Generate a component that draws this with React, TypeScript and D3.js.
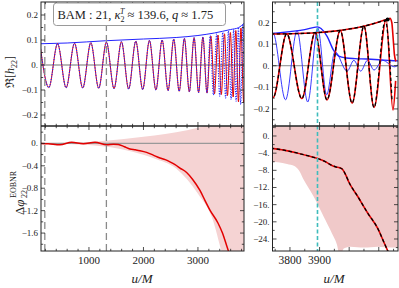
import React from 'react';
import * as d3 from 'd3';

type Pt = [number, number];

// Re h22 extrema of the NR waveform (u/M, value)
const nrRe: Pt[] = [
  [101, 0.083], [264, -0.09], [424, 0.085], [581, -0.091], [735, 0.087], [886, -0.092],
  [1034, 0.089], [1179, -0.093], [1321, 0.091], [1460, -0.094], [1596, 0.093], [1729, -0.096],
  [1859, 0.095], [1986, -0.098], [2110, 0.098], [2229, -0.1], [2343, 0.1], [2452, -0.102],
  [2556, 0.103], [2656, -0.105], [2751, 0.106], [2842, -0.107], [2929, 0.109], [3012, -0.11],
  [3091, 0.112], [3166, -0.112], [3237, 0.116], [3304, -0.115], [3368, 0.12], [3429, -0.118],
  [3487, 0.125], [3542, -0.122], [3595, 0.13], [3646, -0.128], [3695, 0.138], [3743, -0.147],
  [3789, 0.148], [3840, -0.152], [3885, 0.154], [3925, -0.158], [3970, 0.163], [4010, -0.173],
  [4050, 0.184], [4084, -0.193], [4125, 0.214], [4148, -0.205], [4157, -0.07],
];

// blue model follows NR up to u ~ 3166, then runs ahead and merges early
const blueReLate: Pt[] = [
  [3225, 0.118], [3284, -0.12], [3343, 0.124], [3400, -0.125], [3455, 0.13], [3508, -0.132],
  [3559, 0.136], [3608, -0.138], [3655, 0.142], [3700, -0.145], [3743, 0.15], [3785, -0.158],
  [3824, 0.162], [3860, -0.168], [3894, 0.175], [3924, -0.135], [3952, 0.065], [3993, -0.025],
  [4016, 0.025], [4039, -0.025], [4062, 0.025], [4084, -0.02], [4113, 0.025], [4153, -0.005],
  [4170, 0.01],
];

const blueAmp: Pt[] = [
  [110, 0.085], [600, 0.088], [1300, 0.097], [2000, 0.104], [2600, 0.11], [3000, 0.118],
  [3300, 0.128], [3600, 0.142], [3743, 0.149], [3800, 0.158], [3850, 0.167], [3893, 0.18],
  [3905, 0.172], [3926, 0.135], [3946, 0.075], [3965, 0.045], [3990, 0.036], [4020, 0.033],
  [4060, 0.031], [4100, 0.028], [4140, 0.024], [4170, 0.022],
];

const nrAmp: Pt[] = [
  [3735, 0.147], [3800, 0.148], [3850, 0.15], [3900, 0.154], [3950, 0.16], [4000, 0.17],
  [4050, 0.183], [4090, 0.198], [4115, 0.209], [4130, 0.215], [4138, 0.219], [4144, 0.2],
  [4149, 0.12], [4153, 0.05], [4158, 0.02],
];

const eobAmp: Pt[] = [
  [3735, 0.147], [3800, 0.148], [3850, 0.15], [3900, 0.154], [3950, 0.16], [4000, 0.17],
  [4050, 0.183], [4090, 0.198], [4115, 0.208], [4130, 0.214],
];
const eobReTail: Pt[] = [[4122, 0.21], [4145, -0.165]];
const eobPeak: Pt = [4130, 0.214];

// phase difference, left panel
const dphiLeft: Pt[] = [
  [119, 0], [250, -0.005], [468, -0.025], [683, 0.018], [897, -0.005], [1110, 0.018],
  [1325, -0.025], [1450, -0.015], [1538, -0.02], [1650, -0.06], [1752, -0.1], [1850, -0.115],
  [1936, -0.13], [2058, -0.16], [2180, -0.21], [2303, -0.26], [2400, -0.29], [2486, -0.33],
  [2580, -0.38], [2670, -0.44], [2792, -0.52], [2900, -0.64], [3037, -0.84], [3130, -1.02],
  [3220, -1.19], [3367, -1.42], [3450, -1.6], [3532, -1.84], [3580, -1.98],
];
const bandLU = [119, 600, 1000, 1400, 1800, 2200, 2600, 3000, 3275, 3440, 3845];
const bandLHi = [0, 0.012, 0.025, 0.055, 0.095, 0.14, 0.2, 0.28, 0.35, 0.4, 0.6];
const bandLLo = [0, -0.012, -0.03, -0.07, -0.15, -0.27, -0.45, -0.9, -1.37, -1.95, -3];

// phase difference, right panel
const dphiRight: Pt[] = [
  [3735, -2.85], [3780, -3.3], [3820, -3.9], [3860, -4.6], [3896, -5.3], [3920, -6.0],
  [3940, -6.8], [3955, -7.2], [3968, -7.4], [3978, -7.8], [3988, -9.0], [3998, -10.6],
  [4029, -14.1], [4063, -18.0], [4097, -21.6], [4117, -24.7], [4135, -27.5],
];
const bandRU = [3735, 3760, 3790, 3815, 3830, 3845, 3880, 3914, 3942, 3959, 3965, 3975, 3982, 4005, 4050, 4096, 4141, 4170];
const bandRLo = [-6.0, -6.1, -6.5, -7.0, -8.0, -10.0, -14.1, -18.8, -22.7, -25.4, -27, -27, -26.2, -25.8, -26, -25.8, -26, -26];

const alignWindow = [190, 1320];
const blueMerger = 3893;

const yTopMajor = [-0.2, -0.1, 0, 0.1, 0.2];
const yTopMinor = [-0.25, -0.15, -0.05, 0.05, 0.15, 0.25];
const yTopLabels = ['\u22120.2', '\u22120.1', '0.', '0.1', '0.2'];
const yBLMajor = [0, -0.4, -0.8, -1.2, -1.6];
const yBLMinor = [0.2, -0.2, -0.6, -1.0, -1.4, -1.8];
const yBLLabels = ['0.', '\u22120.4', '\u22120.8', '\u22121.2', '\u22121.6'];
const yBRMajor = [0, -4, -8, -12, -16, -20, -24];
const yBRMinor = [2, -2, -6, -10, -14, -18, -22, -26];
const yBRLabels = ['0.', '\u22124.', '\u22128.', '\u221212.', '\u221216.', '\u221220.', '\u221224.'];
const xLMajor = [1000, 2000, 3000];
const xLMinor = [200, 400, 600, 800, 1200, 1400, 1600, 1800, 2200, 2400, 2600, 2800, 3200, 3400, 3600, 3800];
const xRMajor = [3800, 3900, 4000, 4100];
const xRMinor = [3750, 3850, 3950, 4050, 4150];
const xRLabeled = [3800, 3900];

const FONT = "'Liberation Serif', 'DejaVu Serif', serif";
const RED = '#e30000';
const BLUE = '#2424ff';
const INK = '#222';

export default function App() {
  const W = 399, H = 288;
  const fL = [41, 244], fR = [272.5, 398];
  const yT = [2, 126], yB = [126, 251];

  const xL = d3.scaleLinear().domain([120, 3845]).range(fL);
  const xR = d3.scaleLinear().domain([3741, 4165]).range(fR);
  const yTL = d3.scaleLinear().domain([-0.244, 0.252]).range([yT[1], yT[0]]);
  const yTR = d3.scaleLinear().domain([-0.279, 0.295]).range([yT[1], yT[0]]);
  const yBL = d3.scaleLinear().domain([-1.92, 0.31]).range([yB[1], yB[0]]);
  const yBR = d3.scaleLinear().domain([-26.8, 2.33]).range([yB[1], yB[0]]);

  const line = (x: any, y: any) =>
    d3.line<Pt>().x(d => x(d[0])).y(d => y(d[1])).curve(d3.curveMonotoneX);

  const blueRe = nrRe.filter(d => d[0] <= 3166).concat(blueReLate);
  const eobRe = nrRe.filter(d => d[0] >= 3690 && d[0] <= 4084).concat(eobReTail);

  const bandL = d3.area<number>()
    .x((_, i) => xL(bandLU[i]))
    .y0((_, i) => yBL(bandLLo[i]))
    .y1((_, i) => yBL(bandLHi[i]))
    .curve(d3.curveMonotoneX)(bandLU) || '';
  const bandR = d3.area<number>()
    .x((_, i) => xR(bandRU[i]))
    .y0((_, i) => yBR(bandRLo[i]))
    .y1(() => yB[0] - 2)
    .curve(d3.curveMonotoneX)(bandRU) || '';

  const ticks: JSX.Element[] = [];
  let k = 0;
  const xTicks = (x: any, major: number[], minor: number[], f: number[]) => {
    const add = (v: number, len: number) => {
      const px = x(v);
      if (px <= f[0] + 0.5 || px >= f[1] - 0.5) return;
      [[yT[0], len], [yT[1], -len], [yB[0], len], [yB[1], -len]].forEach(([y, l]) => {
        ticks.push(<line key={k++} x1={px} x2={px} y1={y} y2={y + l} />);
      });
    };
    major.forEach(v => add(v, 4));
    minor.forEach(v => add(v, 2.2));
  };
  const yTicks = (y: any, major: number[], minor: number[], f: number[], yr: number[]) => {
    const add = (v: number, len: number) => {
      const py = y(v);
      if (py <= yr[0] + 0.5 || py >= yr[1] - 0.5) return;
      ticks.push(<line key={k++} x1={f[0]} x2={f[0] + len} y1={py} y2={py} />);
      ticks.push(<line key={k++} x1={f[1]} x2={f[1] - len} y1={py} y2={py} />);
    };
    major.forEach(v => add(v, 4));
    minor.forEach(v => add(v, 2.2));
  };
  xTicks(xL, xLMajor, xLMinor, fL);
  xTicks(xR, xRMajor, xRMinor, fR);
  yTicks(yTL, yTopMajor, yTopMinor, fL, yT);
  yTicks(yTR, yTopMajor, yTopMinor, fR, yT);
  yTicks(yBL, yBLMajor, yBLMinor, fL, yB);
  yTicks(yBR, yBRMajor, yBRMinor, fR, yB);

  const clip = (id: string, f: number[], yr: number[]) => (
    <clipPath id={id}>
      <rect x={f[0]} y={yr[0]} width={f[1] - f[0]} height={yr[1] - yr[0]} />
    </clipPath>
  );

  return (
    <svg width={W} height={H}
      style={{ position: 'absolute', left: 0, top: 0, background: '#fff', fontFamily: FONT }}>
      <defs>
        {clip('cTL', fL, yT)}
        {clip('cBL', fL, yB)}
        {clip('cTR', fR, yT)}
        {clip('cBR', fR, yB)}
      </defs>

      {/* top left: waveforms */}
      <g clipPath="url(#cTL)" fill="none">
        <line x1={fL[0]} x2={fL[1]} y1={yTL(0)} y2={yTL(0)} stroke="#333" strokeWidth={0.7} />
        <path d={line(xL, yTL)(blueAmp) || ''} stroke={BLUE} strokeWidth={1} />
        <path d={line(xL, yTL)(nrRe) || ''} stroke={RED} strokeWidth={1} />
        <path d={line(xL, yTL)(blueRe) || ''} stroke={BLUE} strokeWidth={1.1} strokeDasharray="1.2,1.3" />
      </g>

      {/* bottom left: phase difference */}
      <g clipPath="url(#cBL)" fill="none">
        <path d={bandL} fill="#f5d3d3" stroke="none" />
        <line x1={fL[0]} x2={fL[1]} y1={yBL(0)} y2={yBL(0)} stroke="#999" strokeWidth={1.2} />
        <path d={line(xL, yBL)(dphiLeft) || ''} stroke={RED} strokeWidth={1.5} />
      </g>

      {alignWindow.map(u => (
        <line key={u} x1={xL(u)} x2={xL(u)} y1={yT[0]} y2={yB[1]} stroke="#8a8a8a"
          strokeWidth={1.3} strokeDasharray="7,4" />
      ))}

      {/* top right: merger */}
      <g clipPath="url(#cTR)" fill="none">
        <line x1={fR[0]} x2={fR[1]} y1={yTR(0)} y2={yTR(0)} stroke="#555" strokeWidth={0.7} />
        <path d={line(xR, yTR)(blueRe.filter(d => d[0] > 3600)) || ''} stroke={BLUE} strokeWidth={0.9} />
        <path d={line(xR, yTR)(blueAmp.filter(d => d[0] > 3600)) || ''} stroke={BLUE} strokeWidth={1.4} />
        <path d={line(xR, yTR)(nrRe.filter(d => d[0] > 3600)) || ''} stroke={RED} strokeWidth={1.6} />
        <path d={line(xR, yTR)(nrAmp) || ''} stroke={RED} strokeWidth={1.6} />
        <path d={line(xR, yTR)(eobRe) || ''} stroke="#000" strokeWidth={1.3} strokeDasharray="3.5,2.5" />
        <path d={line(xR, yTR)(eobAmp) || ''} stroke="#000" strokeWidth={1.3} strokeDasharray="3.5,2.5" />
        <circle cx={xR(eobPeak[0])} cy={yTR(eobPeak[1])} r={2} fill="#000" />
      </g>

      {/* bottom right */}
      <g clipPath="url(#cBR)" fill="none">
        <path d={bandR} fill="#f0c9c9" stroke="none" />
        <path d={line(xR, yBR)(dphiRight) || ''} stroke={RED} strokeWidth={1.6} />
        <path d={line(xR, yBR)(dphiRight) || ''} stroke="#000" strokeWidth={1.3} strokeDasharray="3.5,2.5" />
      </g>

      <line x1={xR(blueMerger)} x2={xR(blueMerger)} y1={yT[0]} y2={yB[1]} stroke="#3fbcbc"
        strokeWidth={1.6} strokeDasharray="4,2.5" />

      {/* frames and ticks */}
      <g fill="none" stroke={INK} strokeWidth={1}>
        <rect x={fL[0]} y={yT[0]} width={fL[1] - fL[0]} height={yB[1] - yT[0]} />
        <rect x={fR[0]} y={yT[0]} width={fR[1] - fR[0]} height={yB[1] - yT[0]} />
        <line x1={fL[0]} x2={fL[1]} y1={yT[1]} y2={yT[1]} strokeWidth={1.3} />
        <line x1={fR[0]} x2={fR[1]} y1={yT[1]} y2={yT[1]} strokeWidth={1.3} />
      </g>
      <g stroke={INK} strokeWidth={0.8}>{ticks}</g>

      {/* tick labels */}
      <g fill={INK} fontSize={9} textAnchor="end">
        {yTopMajor.map((v, i) => (
          <text key={'a' + i} x={fL[0] - 3} y={yTL(v) + 3}>{yTopLabels[i]}</text>
        ))}
        {yTopMajor.map((v, i) => (
          <text key={'b' + i} x={fR[0] - 3} y={yTR(v) + 3}>{yTopLabels[i]}</text>
        ))}
        {yBLMajor.map((v, i) => (
          <text key={'c' + i} x={fL[0] - 3} y={yBL(v) + 3}>{yBLLabels[i]}</text>
        ))}
        {yBRMajor.map((v, i) => (
          <text key={'d' + i} x={fR[0] - 3} y={yBR(v) + 3}>{yBRLabels[i]}</text>
        ))}
      </g>
      <g fill={INK} fontSize={11} textAnchor="middle">
        {xLMajor.map(v => <text key={v} x={xL(v)} y={264}>{v}</text>)}
        {xRLabeled.map(v => <text key={v} x={xR(v)} y={264} fontSize={11.5}>{v}</text>)}
      </g>

      {/* axis titles */}
      <g fill={INK} fontSize={13}>
        <text x={142} y={283} textAnchor="middle" fontStyle="italic">u/M</text>
        <text x={334} y={283} textAnchor="middle" fontStyle="italic">u/M</text>
      </g>
      <text transform="translate(14,72) rotate(-90)" textAnchor="middle" fontSize={12} fill={INK}>
        {'\u211C['}<tspan fontStyle="italic">h</tspan>
        <tspan dy={3} fontSize={8}>22</tspan><tspan dy={-3}>]</tspan>
      </text>
      <g transform="translate(24,215) rotate(-90)" fill={INK}>
        <text x={0} y={0} fontSize={13}>{'\u0394'}<tspan fontStyle="italic">{'\u03C6'}</tspan></text>
        <text x={17} y={3} fontSize={8}>22</text>
        <text x={17} y={-8} fontSize={8}>EOBNR</text>
      </g>

      {/* legend */}
      <rect x={53.5} y={3} width={172} height={22.5} rx={3} fill="#fff" stroke="#9a9a9a" strokeWidth={1} />
      <text x={57.5} y={19} fontSize={12.5} fill={INK}>
        BAM : 21, <tspan fontStyle="italic">{'\u03BA'}</tspan>
        <tspan dy={3} fontSize={8}>2</tspan>
        <tspan dx={-4.5} dy={-8.5} fontSize={8} fontStyle="italic">T</tspan>
        <tspan dy={5.5}>{' \u2248 139.6, '}</tspan>
        <tspan fontStyle="italic">q</tspan>{' \u2248 1.75'}
      </text>
    </svg>
  );
}
